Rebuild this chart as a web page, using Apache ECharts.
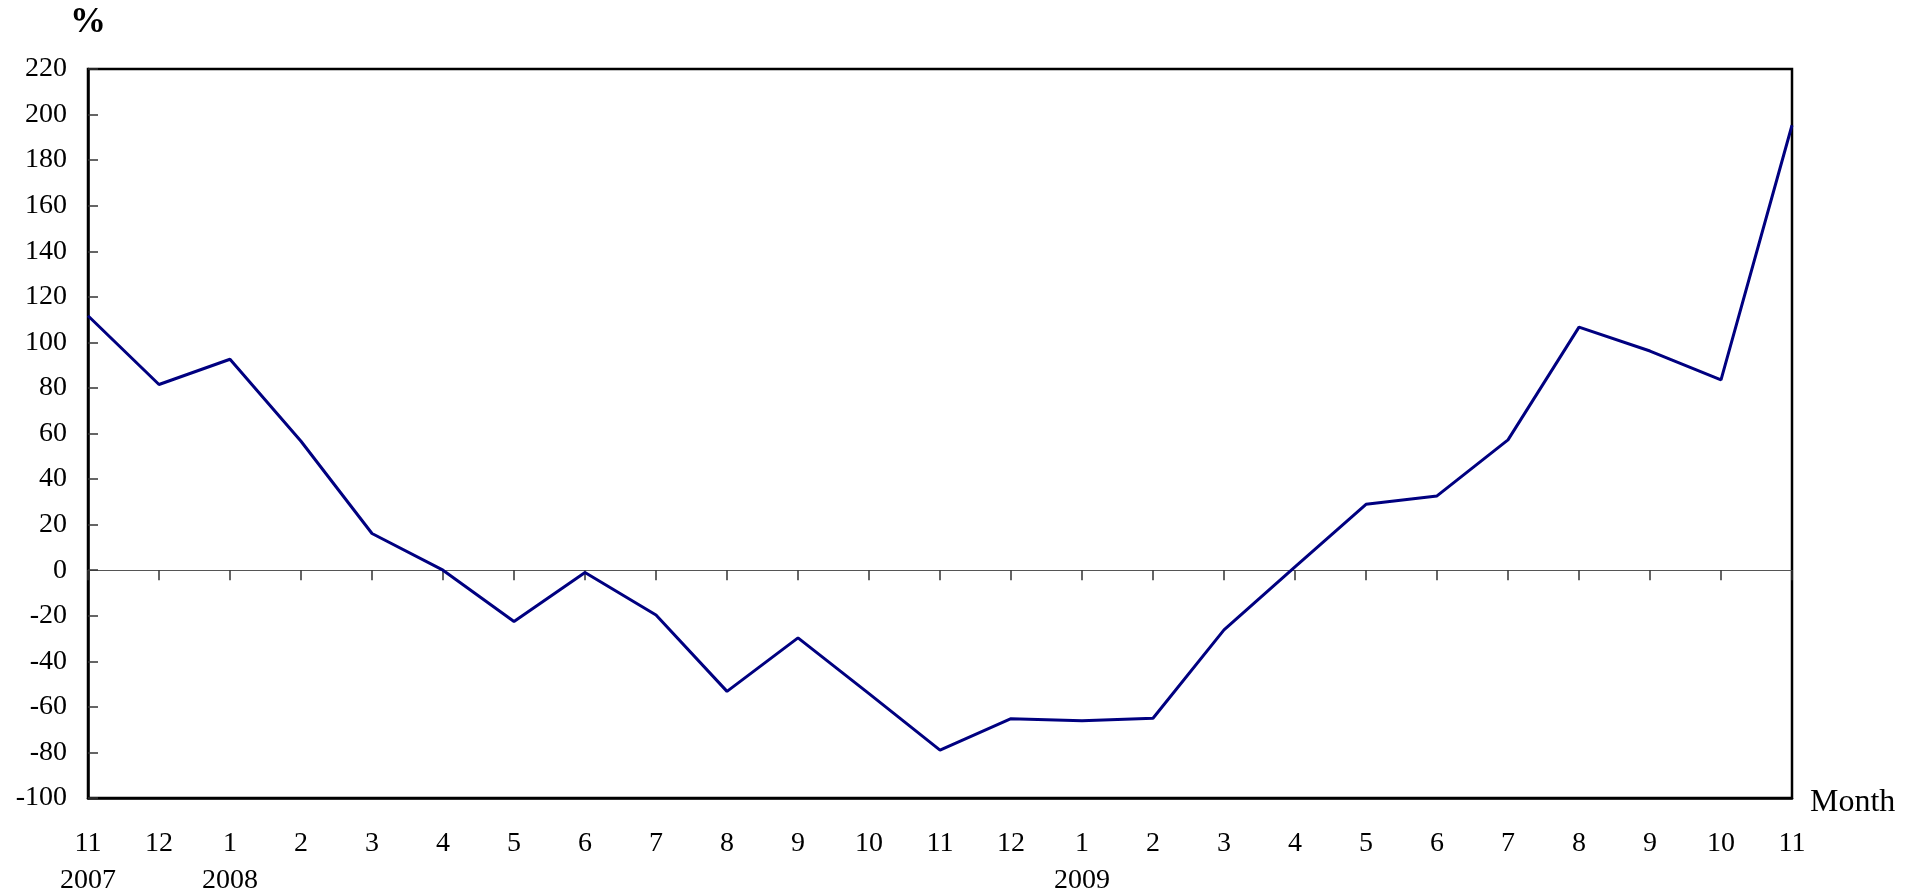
<!DOCTYPE html>
<html>
<head>
<meta charset="utf-8">
<script src="https://cdn.jsdelivr.net/npm/echarts@6/dist/echarts.min.js"></script>
<style>
html, body { margin: 0; padding: 0; background: #fff; }
#main { width: 1919px; height: 894px; }
</style>
</head>
<body>
<div id="main"></div>
<script>
// months Nov 2007 .. Nov 2009
var months = ['11','12','1','2','3','4','5','6','7','8','9','10','11','12','1','2','3','4','5','6','7','8','9','10','11'];
var years  = ['2007','','2008','','','','','','','','','','','','2009','','','','','','','','','',''];
var growth = [111.7, 81.5, 92.6, 56.6, 16.1, 0, -22.5, -1, -19.7, -53.2, -29.7, -54.2, -79,
              -65.2, -66.1, -65, -26.2, 1.5, 28.9, 32.6, 57.2, 106.7, 96.2, 83.5, 195.3];

var font = 'Liberation Serif';

option = {
    animation: false,
    grid: {
        left: 88,
        right: 127,
        top: 69,
        bottom: 96,
        outerBoundsMode: 'none',
        show: true,
        borderColor: '#000',
        borderWidth: 2.5
    },
    xAxis: [{
        type: 'category',
        boundaryGap: false,
        data: months,
        position: 'bottom',
        name: 'Month',
        nameLocation: 'end',
        nameGap: 18,
        nameTextStyle: { fontFamily: font, fontSize: 32, color: '#000', verticalAlign: 'top', lineHeight: 10 },
        axisLine: { onZero: false, lineStyle: { color: '#000', width: 2.5 } },
        axisTick: { show: false },
        axisLabel: {
            fontFamily: font,
            fontSize: 28,
            color: '#000',
            margin: 27,
            lineHeight: 37,
            interval: 0,
            formatter: function (v, i) {
                return years[i] ? v + '\n' + years[i] : v;
            }
        },
        splitLine: { show: false }
    }, {
        // zero line with the month ticks hanging below it
        type: 'category',
        boundaryGap: false,
        data: months,
        position: 'bottom',
        axisLine: { onZero: true, lineStyle: { color: '#555', width: 1.2 } },
        axisTick: { show: true, interval: 0, length: 10, lineStyle: { color: '#333', width: 1.5 } },
        axisLabel: { show: false },
        splitLine: { show: false }
    }],
    yAxis: {
        type: 'value',
        min: -100,
        max: 220,
        interval: 20,
        name: '%',
        nameLocation: 'end',
        nameGap: 28,
        nameTextStyle: { fontFamily: font, fontSize: 36, fontWeight: 'bold', color: '#000', align: 'center' },
        axisLine: { show: true, lineStyle: { color: '#000', width: 2.5 } },
        axisTick: { show: true, inside: true, length: 10, lineStyle: { color: '#333', width: 1.5 } },
        axisLabel: { fontFamily: font, fontSize: 28, color: '#000', margin: 21 },
        splitLine: { show: false }
    },
    series: [{
        type: 'line',
        data: growth,
        showSymbol: false,
        symbol: 'none',
        lineStyle: { color: '#000080', width: 3 }
    }]
};

var dom = document.getElementById('main');
var myChart = echarts.init(dom);
myChart.setOption(option);
</script>
</body>
</html>
